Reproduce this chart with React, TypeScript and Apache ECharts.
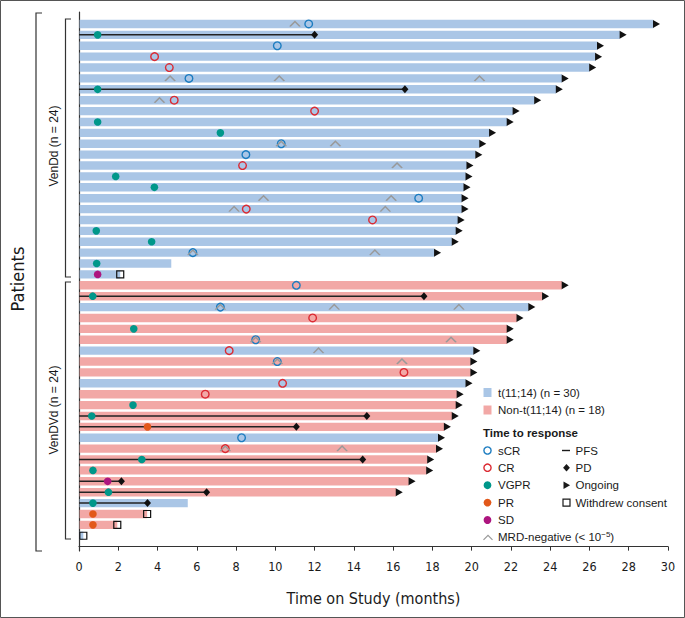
import React, { useEffect, useRef } from "react";
import * as echarts from "echarts";

// ---------- data (rows listed top to bottom) ----------
// cohort: 0 = t(11;14), 1 = Non-t(11;14)
const cohort = [
  0, 0, 0, 0, 0, 0, 0, 0, 0, 0, 0, 0, 0, 0, 0, 0, 0, 0, 0, 0, 0, 0, 0, 0,
  1, 1, 0, 1, 1, 1, 0, 1, 1, 0, 1, 1, 1, 1, 0, 1, 1, 1, 1, 1, 0, 1, 1, 0,
];
const duration = [
  29.25, 27.55, 26.4, 26.3, 26.0, 24.6, 24.3, 23.2, 22.1, 21.8, 20.9, 20.4,
  20.2, 19.75, 19.7, 19.6, 19.5, 19.5, 19.3, 19.2, 19.0, 18.1, 4.7, 2.1,
  24.6, 23.6, 22.9, 22.3, 21.8, 21.8, 20.1, 19.95, 19.95, 19.7, 19.25, 19.2,
  19.0, 18.6, 18.3, 18.2, 17.75, 17.7, 16.8, 16.15, 5.54, 3.47, 1.95, 0.22,
];
// status: "O" ongoing, "W" withdrew consent, "-" neither
const status = [
  "O", "O", "O", "O", "O", "O", "O", "O", "O", "O", "O", "O",
  "O", "O", "O", "O", "O", "O", "O", "O", "O", "O", "-", "W",
  "O", "O", "O", "O", "O", "O", "O", "O", "O", "O", "O", "O",
  "O", "O", "O", "O", "O", "O", "O", "O", "-", "W", "W", "W",
];
// PD events [row, month] (PFS line drawn from 0 to PD)
const pdEvents = [
  [2, 12.0], [7, 16.6], [26, 17.57], [37, 14.66], [38, 11.07],
  [41, 14.45], [43, 2.16], [44, 6.5], [45, 3.49],
];
// responses [row, month]
const sCR = [
  [1, 11.7], [3, 10.1], [6, 5.6], [12, 10.3], [13, 8.5], [17, 17.3], [22, 5.8],
  [25, 11.07], [27, 7.2], [30, 9.0], [32, 10.1], [39, 8.28],
];
const CR = [
  [4, 3.85], [5, 4.6], [8, 4.85], [9, 12.0], [14, 8.33], [18, 8.52], [19, 14.95],
  [28, 11.9], [31, 7.65], [33, 16.55], [34, 10.37], [35, 6.43], [40, 7.45],
];
const VGPR = [
  [2, 0.95], [7, 0.95], [10, 0.95], [11, 7.2], [15, 1.87], [16, 3.84], [20, 0.88],
  [21, 3.7], [23, 0.9], [26, 0.7], [29, 2.79], [36, 2.75], [37, 0.65], [41, 3.2],
  [42, 0.71], [44, 1.5], [45, 0.71],
];
const PR = [[38, 3.49], [46, 0.71], [47, 0.71]];
const SD = [[24, 0.95], [43, 1.46]];
const MRD = [
  [1, 11.0], [6, 4.64], [6, 10.2], [6, 20.4], [8, 4.1], [12, 10.3], [12, 13.06],
  [14, 16.2], [17, 9.4], [17, 15.9], [18, 7.9], [18, 15.6], [22, 5.8], [22, 15.07],
  [27, 7.2], [27, 13.0], [27, 19.35], [30, 9.0], [30, 18.95], [31, 12.2],
  [32, 10.1], [32, 16.45], [40, 7.45], [40, 13.4],
];
const xTickMax = 30;
const xTickStep = 2;
const groupLabels = ["VenDd (n = 24)", "VenDVd (n = 24)"];
const cohortLabels = ["t(11;14) (n = 30)", "Non-t(11;14) (n = 18)"];

// ---------- styles ----------
const BLUE = "#aac6e6";
const PINK = "#f2a8a6";
const C_SCR = "#1c7cc0";
const C_CR = "#db2a32";
const C_VGPR = "#00978a";
const C_PR = "#e2581a";
const C_SD = "#ad157f";
const C_MRD = "#999999";
const INK = "#1a1a1a";
const NARROW = "'Liberation Sans Narrow', 'DejaVu Sans Condensed', 'Arial Narrow', sans-serif";
const SANS = "'Liberation Sans', Arial, Helvetica, sans-serif";

const N = duration.length;
const yv = (row: number) => N + 1 - row;
const pts = (arr: number[][]) => arr.map(([r, t]) => [t, yv(r)]);

const CARET = "path://M0,10 L10,0 L20,10";
const RIGHT_TRI = "path://M0,0 L10,5 L0,10 Z";

export default function App() {
  const ref = useRef<HTMLDivElement>(null);
  useEffect(() => {
    if (!ref.current) return;
    const chart = echarts.init(ref.current, undefined, { renderer: "svg" });

    const barData = duration.map((d, i) => [d, yv(i + 1), cohort[i]]);
    const ongoingData = duration
      .map((d, i) => (status[i] === "O" ? [d, yv(i + 1)] : null))
      .filter(Boolean);
    const withdrewData = duration
      .map((d, i) => (status[i] === "W" ? [d, yv(i + 1)] : null))
      .filter(Boolean);

    const ring = (name: string, data: number[][], color: string) => ({
      name,
      type: "scatter",
      data: pts(data),
      symbol: "circle",
      symbolSize: 7.6,
      itemStyle: { color: "rgba(0,0,0,0)", borderColor: color, borderWidth: 1.4, opacity: 1 },
      z: 5,
    });
    const dot = (name: string, data: number[][], color: string) => ({
      name,
      type: "scatter",
      data: pts(data),
      symbol: "circle",
      symbolSize: 7.6,
      itemStyle: { color, opacity: 1 },
      z: 5,
    });

    const legendItems: any[] = [];
    const lx = 487.5;
    const tx = 498;
    const tStyle = (text: string) => ({ text, fontSize: 11.5, fill: INK, fontFamily: SANS, verticalAlign: "middle" });
    legendItems.push({ type: "rect", shape: { x: 483.5, y: 388, width: 8, height: 9 }, style: { fill: BLUE } });
    legendItems.push({ type: "text", x: tx, y: 392.5, style: tStyle(cohortLabels[0]) });
    legendItems.push({ type: "rect", shape: { x: 483.5, y: 405.5, width: 8, height: 9 }, style: { fill: PINK } });
    legendItems.push({ type: "text", x: tx, y: 410, style: tStyle(cohortLabels[1]) });
    legendItems.push({
      type: "text", x: 483, y: 432.5,
      style: { ...tStyle("Time to response"), fontWeight: "bold" },
    });
    const rows = [450.5, 467.7, 485.2, 502.6, 520, 537.3];
    const respDefs: [string, string, boolean][] = [
      ["sCR", C_SCR, false], ["CR", C_CR, false], ["VGPR", C_VGPR, true], ["PR", C_PR, true], ["SD", C_SD, true],
    ];
    respDefs.forEach(([lab, col, filled], i) => {
      legendItems.push({
        type: "circle", shape: { cx: lx, cy: rows[i], r: filled ? 3.9 : 3.6 },
        style: filled ? { fill: col } : { fill: "none", stroke: col, lineWidth: 1.4 },
      });
      legendItems.push({ type: "text", x: tx, y: rows[i], style: tStyle(lab) });
    });
    legendItems.push({
      type: "polyline", shape: { points: [[483.5, rows[5] + 2.5], [488, rows[5] - 2], [492.5, rows[5] + 2.5]] },
      style: { stroke: C_MRD, lineWidth: 1.2, fill: "none" },
    });
    legendItems.push({
      type: "text", x: tx, y: rows[5],
      style: {
        text: "MRD-negative (< 10{s|−5})", rich: { s: { fontSize: 8, verticalAlign: "top", padding: [0, 0, 6, 0], fill: INK, fontFamily: SANS } },
        fontSize: 11.5, fill: INK, fontFamily: SANS, verticalAlign: "middle",
      },
    });
    const rx = 566.5;
    const rtx = 575.5;
    legendItems.push({ type: "line", shape: { x1: 562, y1: rows[0], x2: 570, y2: rows[0] }, style: { stroke: INK, lineWidth: 1.4 } });
    legendItems.push({ type: "text", x: rtx, y: rows[0], style: tStyle("PFS") });
    legendItems.push({
      type: "polygon", shape: { points: [[rx, rows[1] - 3.7], [rx + 3.4, rows[1]], [rx, rows[1] + 3.7], [rx - 3.4, rows[1]]] },
      style: { fill: INK },
    });
    legendItems.push({ type: "text", x: rtx, y: rows[1], style: tStyle("PD") });
    legendItems.push({
      type: "polygon", shape: { points: [[rx - 3, rows[2] - 3.8], [rx + 3.6, rows[2]], [rx - 3, rows[2] + 3.8]] },
      style: { fill: INK },
    });
    legendItems.push({ type: "text", x: rtx, y: rows[2], style: tStyle("Ongoing") });
    legendItems.push({
      type: "rect", shape: { x: rx - 3.5, y: rows[3] - 3.5, width: 7, height: 7 },
      style: { fill: "none", stroke: INK, lineWidth: 1.2 },
    });
    legendItems.push({ type: "text", x: rtx, y: rows[3], style: tStyle("Withdrew consent") });

    const option: any = {
      animation: false,
      backgroundColor: "#ffffff",
      grid: { left: 79, right: 17, top: 12, bottom: 67, containLabel: false },
      xAxis: {
        type: "value",
        min: 0,
        max: xTickMax,
        interval: xTickStep,
        name: "Time on Study (months)",
        nameLocation: "middle",
        nameGap: 39,
        nameTextStyle: { fontSize: 16, color: INK, fontFamily: NARROW },
        axisLine: { show: true, lineStyle: { color: "#333", width: 1.2 } },
        axisTick: { show: true, length: 4, lineStyle: { color: "#333" } },
        axisLabel: { fontSize: 12.5, color: INK, fontFamily: NARROW, margin: 9 },
        splitLine: { show: false },
      },
      yAxis: {
        type: "value",
        min: -0.4,
        max: 49.1,
        axisLine: { show: true, onZero: false, lineStyle: { color: "#333", width: 1.2 } },
        axisTick: { show: false },
        axisLabel: { show: false },
        splitLine: { show: false },
      },
      series: [
        {
          name: "bars",
          type: "custom",
          data: barData,
          encode: { x: 0, y: 1 },
          renderItem: (params: any, api: any) => {
            const v = api.value(1);
            const p0 = api.coord([0, v]);
            const p1 = api.coord([api.value(0), v]);
            const h = api.size([0, 1])[1] * 0.77;
            return {
              type: "rect",
              shape: { x: p0[0] + 0.6, y: p0[1] - h / 2, width: p1[0] - p0[0] - 0.6, height: h },
              style: { fill: api.value(2) === 0 ? BLUE : PINK },
            };
          },
          z: 1,
        },
        {
          name: "PFS",
          type: "custom",
          data: pdEvents.map(([r, t]) => [t, yv(r)]),
          encode: { x: 0, y: 1 },
          renderItem: (params: any, api: any) => {
            const v = api.value(1);
            const p0 = api.coord([0, v]);
            const p1 = api.coord([api.value(0), v]);
            return {
              type: "line",
              shape: { x1: p0[0], y1: p0[1], x2: p1[0], y2: p1[1] },
              style: { stroke: "#222", lineWidth: 1.5 },
            };
          },
          z: 2,
        },
        ring("sCR", sCR, C_SCR),
        ring("CR", CR, C_CR),
        dot("VGPR", VGPR, C_VGPR),
        dot("PR", PR, C_PR),
        dot("SD", SD, C_SD),
        {
          name: "MRD-negative",
          type: "scatter",
          data: pts(MRD),
          symbol: CARET,
          symbolSize: [10, 5],
          itemStyle: { color: "rgba(0,0,0,0)", borderColor: C_MRD, borderWidth: 1.3, opacity: 1 },
          z: 6,
        },
        {
          name: "PD",
          type: "scatter",
          data: pdEvents.map(([r, t]) => [t, yv(r)]),
          symbol: "diamond",
          symbolSize: [7, 8],
          itemStyle: { color: "#111", opacity: 1 },
          z: 7,
        },
        {
          name: "Ongoing",
          type: "scatter",
          data: ongoingData,
          symbol: RIGHT_TRI,
          symbolSize: [7, 8],
          symbolOffset: [3.2, 0],
          itemStyle: { color: "#111", opacity: 1 },
          z: 7,
        },
        {
          name: "Withdrew consent",
          type: "scatter",
          data: withdrewData,
          symbol: "rect",
          symbolSize: 7,
          itemStyle: { color: "rgba(0,0,0,0)", borderColor: "#111", borderWidth: 1.2, opacity: 1 },
          z: 7,
        },
      ],
      graphic: [
        {
          type: "rect", shape: { x: 0.5, y: 0.5, width: 684, height: 617 },
          style: { fill: "none", stroke: "#555", lineWidth: 1 }, silent: true,
        },
        {
          type: "polyline", shape: { points: [[42, 13], [36, 13], [36, 551], [42, 551]] },
          style: { stroke: "#333", lineWidth: 1.2, fill: "none" },
        },
        {
          type: "polyline", shape: { points: [[71, 19], [65.5, 19], [65.5, 277], [71, 277]] },
          style: { stroke: "#333", lineWidth: 1.2, fill: "none" },
        },
        {
          type: "polyline", shape: { points: [[71, 282], [65.5, 282], [65.5, 539], [71, 539]] },
          style: { stroke: "#333", lineWidth: 1.2, fill: "none" },
        },
        {
          type: "text", x: 17, y: 279, rotation: Math.PI / 2,
          style: { text: "Patients", fontSize: 18, fill: INK, fontFamily: NARROW, align: "center", verticalAlign: "middle" },
        },
        {
          type: "text", x: 54, y: 146, rotation: Math.PI / 2,
          style: { text: groupLabels[0], fontSize: 12, fill: INK, fontFamily: SANS, align: "center", verticalAlign: "middle" },
        },
        {
          type: "text", x: 54, y: 410, rotation: Math.PI / 2,
          style: { text: groupLabels[1], fontSize: 12, fill: INK, fontFamily: SANS, align: "center", verticalAlign: "middle" },
        },
        ...legendItems,
      ],
    };
    chart.setOption(option);
    return () => chart.dispose();
  }, []);

  return (
    <div
      ref={ref}
      style={{ position: "absolute", left: 0, top: 0, width: 685, height: 618, background: "#fff" }}
    />
  );
}
